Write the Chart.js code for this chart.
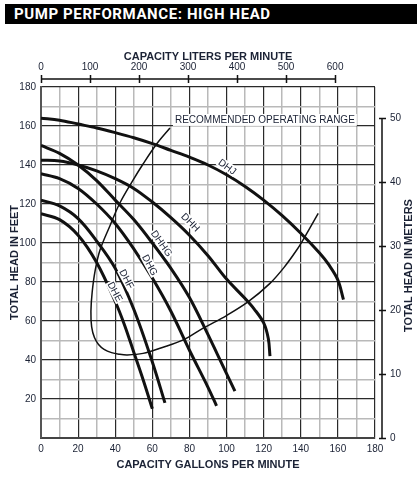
<!DOCTYPE html>
<html>
<head>
<meta charset="utf-8">
<title>Pump Performance: High Head</title>
<script src="https://cdn.jsdelivr.net/npm/chart.js@4.4.1/dist/chart.umd.min.js"></script>
<style>
  html, body { margin: 0; padding: 0; background: #fff; }
  #wrap { position: relative; width: 419px; height: 477px; overflow: hidden; }
  #pumpChart { position: absolute; left: 0; top: 0; }
  #banner {
    position: absolute; left: 5px; top: 4px; width: 412px; height: 20px;
    background: #000; color: #fff; box-sizing: border-box; padding-left: 9px;
    font: 700 15px Roboto, "Liberation Sans", sans-serif; line-height: 21px;
    letter-spacing: 0.6px;
  }
</style>
</head>
<body>
<div id="wrap">
  <canvas id="pumpChart" width="419" height="477"></canvas>
  <div id="banner">PUMP PERFORMANCE: HIGH HEAD</div>
</div>
<script>
// unit conversions for the secondary axes
const LPM_PER_GPM = 3.78541;
const M_PER_FT = 0.3048;

// Pump curves (gallons per minute vs total head in feet)
const dhjGpm = [0, 10, 20, 30, 40, 50, 60, 70, 80, 90, 100, 110, 120, 130, 140, 150, 155, 160, 163];
const dhjFt  = [164, 163, 161, 159, 156.6, 154, 151, 147.5, 144, 140, 135, 129, 122, 114, 105, 95, 89, 81, 71];

const dhhGpm = [0, 10, 20, 30, 40, 50, 60, 70, 80, 90, 100, 110, 115, 120, 122.5, 123.4];
const dhhFt  = [142.5, 142, 140, 137, 133, 128, 121, 113, 104, 93.5, 81.5, 71.5, 66, 59, 51, 42];

const dhhgGpm = [0, 10, 20, 30, 40, 50, 60, 70, 80, 90, 95, 100, 104.5];
const dhhgFt  = [150, 146, 140, 132, 122, 112, 100, 87, 72, 53, 43, 33, 24];

const dhgGpm = [0, 10, 20, 30, 40, 50, 60, 70, 80, 90, 94.6];
const dhgFt  = [135.5, 133, 128, 120, 110, 97, 82, 65, 45, 26, 16.5];

const dhfGpm = [0, 10, 20, 30, 40, 50, 60, 66.8];
const dhfFt  = [122, 119, 112.5, 101, 87, 66, 39, 18];

const dheGpm = [0, 10, 20, 30, 40, 45, 50, 55, 60];
const dheFt  = [115, 112, 104, 90, 70, 58, 44, 30, 15];

// Recommended operating range outline
const rangeGpm = [69.5, 62.5, 55, 48.8, 42.5, 37, 31.8, 29.2, 27.6, 26.9, 27.3, 28.8, 31, 34, 38, 42, 46.5, 55, 65, 76.7, 87.4, 100, 111.7, 123.4, 131, 137.8, 142.2, 149.4];
const rangeFt  = [159, 151, 140.5, 131, 120.5, 108.5, 96.4, 86, 75, 65, 57, 51.5, 48, 45.5, 43.8, 43, 42.6, 43.4, 46.3, 50.3, 56.3, 62.8, 69.9, 79.3, 87.5, 96.4, 103.2, 115.2];

// Tick labels
const gpmTicks = [0, 20, 40, 60, 80, 100, 120, 140, 160, 180];
const ftTicks = [20, 40, 60, 80, 100, 120, 140, 160, 180];
const lpmTicks = [0, 100, 200, 300, 400, 500, 600];
const meterTicks = [0, 10, 20, 30, 40, 50];

// Curve names and where they sit on the chart (data units)
const curveNames = ['DHJ', 'DHH', 'DHHG', 'DHG', 'DHF', 'DHE'];
const labelGpm = [100.4, 80.6, 65, 58.7, 46.2, 39.9];
const labelFt = [139.1, 110.6, 99.8, 88.7, 81.5, 75];
const labelAngle = [36, 45, 55, 62, 62, 62];

const TEXT = '#1b2235';
const FONT = '"Liberation Sans", Arial, Helvetica, sans-serif';

function toPoints(xs, ys) {
  return xs.map((x, i) => ({ x: x, y: ys[i] }));
}

function curve(xs, ys, width) {
  return {
    data: toPoints(xs, ys),
    showLine: true,
    borderColor: '#111',
    borderWidth: width,
    pointRadius: 0,
    tension: 0.35,
    fill: false
  };
}

// tick values on the converted axes are floats, so snap before matching
function pickTick(list, v) {
  const r = Math.round(v);
  return (Math.abs(v - r) < 1e-6 && list.includes(r)) ? r : null;
}

const gridColor = ctx => (ctx.tick && ctx.tick.value % 20 === 0) ? '#2a2a2a' : '#b9b9b9';
const gridWidth = ctx => (ctx.tick && ctx.tick.value % 20 === 0) ? 1.2 : 1.5;

const overlayPlugin = {
  id: 'overlay',
  afterDatasetsDraw(chart) {
    const { ctx, scales } = chart;
    const x = scales.x, y = scales.y;
    ctx.save();

    // curve labels
    ctx.font = '10px ' + FONT;
    ctx.textAlign = 'center';
    ctx.textBaseline = 'middle';
    curveNames.forEach((name, i) => {
      const px = x.getPixelForValue(labelGpm[i]);
      const py = y.getPixelForValue(labelFt[i]);
      ctx.save();
      ctx.translate(px, py);
      ctx.rotate(labelAngle[i] * Math.PI / 180);
      const w = ctx.measureText(name).width;
      ctx.fillStyle = '#fff';
      ctx.fillRect(-w / 2 - 1, -5, w + 2, 10);
      ctx.fillStyle = TEXT;
      ctx.fillText(name, 0, 0.5);
      ctx.restore();
    });

    // recommended operating range note
    const note = 'RECOMMENDED OPERATING RANGE';
    ctx.textAlign = 'left';
    const nx = x.getPixelForValue(72.2);
    const ny = y.getPixelForValue(163.1);
    const nw = ctx.measureText(note).width;
    ctx.fillStyle = '#fff';
    ctx.fillRect(nx - 2, ny - 6, nw + 4, 12);
    ctx.fillStyle = TEXT;
    ctx.fillText(note, nx, ny + 0.5);
    ctx.restore();
  },
  afterDraw(chart) {
    const { ctx, chartArea, scales } = chart;
    const x2 = scales.x2, y2 = scales.y2;
    ctx.save();
    ctx.strokeStyle = '#111';
    ctx.lineWidth = 1.5;

    // top liters axis, set off above the plot
    const ty = chartArea.top - 8;
    ctx.beginPath();
    ctx.moveTo(x2.getPixelForValue(lpmTicks[0]), ty);
    ctx.lineTo(x2.getPixelForValue(lpmTicks[lpmTicks.length - 1]), ty);
    lpmTicks.forEach(v => {
      const px = Math.round(x2.getPixelForValue(v)) + 0.5;
      ctx.moveTo(px, ty - 4);
      ctx.lineTo(px, ty + 4);
    });
    ctx.stroke();

    // right meters axis, set off beside the plot
    const rx = chartArea.right + 7;
    ctx.beginPath();
    ctx.moveTo(rx, y2.getPixelForValue(meterTicks[0]));
    ctx.lineTo(rx, y2.getPixelForValue(meterTicks[meterTicks.length - 1]));
    meterTicks.forEach(v => {
      const py = Math.round(y2.getPixelForValue(v)) + 0.5;
      ctx.moveTo(rx - 3, py);
      ctx.lineTo(rx + 4, py);
    });
    ctx.stroke();

    // right title reads bottom to top
    ctx.fillStyle = TEXT;
    ctx.font = 'bold 11px ' + FONT;
    ctx.textAlign = 'center';
    ctx.textBaseline = 'middle';
    ctx.translate(chart.width - 10, (chartArea.top + chartArea.bottom) / 2 + 3);
    ctx.rotate(-Math.PI / 2);
    ctx.fillText('TOTAL HEAD IN METERS', 0, 0);
    ctx.restore();
  }
};

new Chart(document.getElementById('pumpChart'), {
  type: 'scatter',
  data: {
    datasets: [
      curve(dhjGpm, dhjFt, 3),
      curve(dhhGpm, dhhFt, 3),
      curve(dhhgGpm, dhhgFt, 3),
      curve(dhgGpm, dhgFt, 3),
      curve(dhfGpm, dhfFt, 3),
      curve(dheGpm, dheFt, 3),
      curve(rangeGpm, rangeFt, 1.5)
    ]
  },
  options: {
    responsive: false,
    animation: false,
    layout: { padding: 0 },
    plugins: {
      legend: { display: false },
      tooltip: { enabled: false }
    },
    scales: {
      x: {
        type: 'linear', position: 'bottom', min: 0, max: 180,
        afterFit: s => { s.height = 39; },
        ticks: {
          stepSize: 10, autoSkip: false, maxRotation: 0, padding: 5,
          color: TEXT, font: { family: FONT, size: 10 },
          callback: v => gpmTicks.includes(v) ? v : ''
        },
        grid: { color: gridColor, lineWidth: gridWidth, drawTicks: false },
        border: { color: '#444', width: 2 },
        title: {
          display: true, text: 'CAPACITY GALLONS PER MINUTE', color: TEXT,
          font: { family: FONT, size: 11, weight: 'bold' },
          padding: { top: 0, bottom: 5 }
        }
      },
      y: {
        type: 'linear', position: 'left', min: 0, max: 180,
        afterFit: s => { s.width = 41; },
        ticks: {
          stepSize: 10, autoSkip: false, padding: 5,
          color: TEXT, font: { family: FONT, size: 10 },
          callback: v => ftTicks.includes(v) ? v : ''
        },
        grid: { color: gridColor, lineWidth: gridWidth, drawTicks: false },
        border: { color: '#555', width: 2 },
        title: {
          display: true, text: 'TOTAL HEAD IN FEET', color: TEXT,
          font: { family: FONT, size: 11, weight: 'bold' },
          padding: { top: 8, bottom: 0 }
        }
      },
      x2: {
        type: 'linear', position: 'top', min: 0, max: 180 * LPM_PER_GPM,
        afterFit: s => { s.height = 87; },
        ticks: {
          stepSize: 100, autoSkip: false, maxRotation: 0, padding: 14,
          includeBounds: false,
          color: TEXT, font: { family: FONT, size: 10 },
          callback: v => pickTick(lpmTicks, v)
        },
        grid: { display: false, drawTicks: false },
        border: { display: false },
        title: {
          display: true, text: 'CAPACITY LITERS PER MINUTE', color: TEXT,
          font: { family: FONT, size: 11, weight: 'bold' },
          padding: { top: 50, bottom: 0 }
        }
      },
      y2: {
        type: 'linear', position: 'right', min: 0, max: 180 * M_PER_FT,
        afterFit: s => { s.width = 44; },
        ticks: {
          stepSize: 10, autoSkip: false, padding: 15,
          includeBounds: false,
          color: TEXT, font: { family: FONT, size: 10 },
          callback: v => pickTick(meterTicks, v)
        },
        grid: { display: false, drawTicks: false },
        border: { display: false }
      }
    }
  },
  plugins: [overlayPlugin]
});
</script>
</body>
</html>
